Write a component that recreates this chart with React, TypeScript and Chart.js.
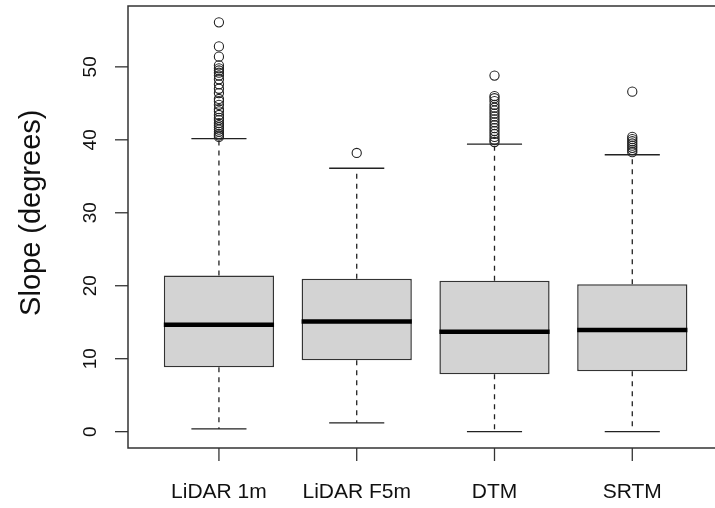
import React, { useEffect, useRef } from "react";
import { Chart, registerables } from "chart.js";

Chart.register(...registerables);

const categories = ["LiDAR 1m", "LiDAR F5m", "DTM", "SRTM"];
const lowerWhisker = [0.37, 1.19, 0.0, 0.0];
const q1 = [8.83, 9.8, 7.87, 8.28];
const median = [14.64, 15.1, 13.68, 13.95];
const q3 = [21.4, 20.95, 20.67, 20.2];
const upperWhisker = [40.15, 36.1, 39.42, 37.95];

const outliersLidar1m = [
  56.1, 52.8, 51.4, 50.2, 49.8, 49.5, 49.2, 48.8, 48.3, 47.6, 47.0, 46.4, 45.6,
  45.3, 44.8, 44.2, 43.9, 43.4, 43.0, 42.7, 42.3, 42.0, 41.7, 41.4, 41.1, 40.8,
  40.6, 40.4,
];
const outliersLidarF5m = [38.2];
const outliersDTM = [
  48.8, 46.0, 45.7, 45.3, 44.8, 44.4, 44.0, 43.6, 43.2, 42.8, 42.4, 42.0, 41.6,
  41.2, 40.8, 40.4, 40.0, 39.7,
];
const outliersSRTM = [46.6, 40.4, 40.1, 39.8, 39.5, 39.2, 38.9, 38.6, 38.3];
const outliers = [outliersLidar1m, outliersLidarF5m, outliersDTM, outliersSRTM];

const yTicks = [0, 10, 20, 30, 40, 50];
const yTitle = "Slope (degrees)";

const FONT = "'Liberation Sans', Arial, Helvetica, sans-serif";
const INK = "#222";

const boxplotPlugin = {
  id: "boxplotDecor",
  beforeDatasetsDraw(chart: any) {
    const { ctx } = chart;
    const x = chart.scales.x;
    const y = chart.scales.y;
    ctx.save();
    ctx.strokeStyle = INK;
    ctx.lineWidth = 1.3;
    categories.forEach((_, i) => {
      const cx = x.getPixelForValue(i + 1);
      ctx.setLineDash([5, 5]);
      ctx.beginPath();
      ctx.moveTo(cx, y.getPixelForValue(q3[i]));
      ctx.lineTo(cx, y.getPixelForValue(upperWhisker[i]));
      ctx.moveTo(cx, y.getPixelForValue(q1[i]));
      ctx.lineTo(cx, y.getPixelForValue(lowerWhisker[i]));
      ctx.stroke();
      ctx.setLineDash([]);
      const sl = x.getPixelForValue(i + 1 - 0.2);
      const sr = x.getPixelForValue(i + 1 + 0.2);
      ctx.beginPath();
      ctx.moveTo(sl, y.getPixelForValue(upperWhisker[i]));
      ctx.lineTo(sr, y.getPixelForValue(upperWhisker[i]));
      ctx.moveTo(sl, y.getPixelForValue(lowerWhisker[i]));
      ctx.lineTo(sr, y.getPixelForValue(lowerWhisker[i]));
      ctx.stroke();
    });
    ctx.restore();
  },
  afterDatasetsDraw(chart: any) {
    const { ctx, chartArea, width } = chart;
    const x = chart.scales.x;
    const y = chart.scales.y;
    ctx.save();
    ctx.strokeStyle = "#000";
    ctx.lineWidth = 4.5;
    categories.forEach((_, i) => {
      const l = x.getPixelForValue(i + 1 - 0.4);
      const r = x.getPixelForValue(i + 1 + 0.4);
      const my = y.getPixelForValue(median[i]);
      ctx.beginPath();
      ctx.moveTo(l, my);
      ctx.lineTo(r, my);
      ctx.stroke();
    });

    ctx.strokeStyle = "#333";
    ctx.lineWidth = 1.5;
    ctx.beginPath();
    ctx.moveTo(width + 2, chartArea.top);
    ctx.lineTo(chartArea.left, chartArea.top);
    ctx.lineTo(chartArea.left, chartArea.bottom);
    ctx.lineTo(width + 2, chartArea.bottom);
    ctx.stroke();

    ctx.lineWidth = 1.3;
    ctx.fillStyle = "#111";
    ctx.font = `19px ${FONT}`;
    ctx.textAlign = "center";
    ctx.textBaseline = "alphabetic";
    yTicks.forEach((v) => {
      const py = y.getPixelForValue(v);
      ctx.beginPath();
      ctx.moveTo(chartArea.left - 13, py);
      ctx.lineTo(chartArea.left, py);
      ctx.stroke();
      ctx.save();
      ctx.translate(chartArea.left - 32, py);
      ctx.rotate(-Math.PI / 2);
      ctx.fillText(String(v), 0, 0);
      ctx.restore();
    });

    ctx.font = `21px ${FONT}`;
    categories.forEach((c, i) => {
      const px = x.getPixelForValue(i + 1);
      ctx.beginPath();
      ctx.moveTo(px, chartArea.bottom);
      ctx.lineTo(px, chartArea.bottom + 13);
      ctx.stroke();
      ctx.fillText(c, px, chartArea.bottom + 50);
    });

    ctx.font = `29px ${FONT}`;
    ctx.save();
    ctx.translate(39.5, (y.getPixelForValue(30) + y.getPixelForValue(10)) / 2 - 73);
    ctx.rotate(-Math.PI / 2);
    ctx.fillText(yTitle, 0, 0);
    ctx.restore();

    ctx.restore();
  },
};

export default function App() {
  const ref = useRef<HTMLCanvasElement | null>(null);
  useEffect(() => {
    if (!ref.current) return;
    const chart = new Chart(ref.current, {
      type: "bar",
      data: {
        datasets: [
          {
            type: "bar",
            data: categories.map((_, i) => ({ x: i + 1, y: [q1[i], q3[i]] })) as any,
            backgroundColor: "#d3d3d3",
            borderColor: "#333",
            borderWidth: 1.5,
            borderSkipped: false,
            barPercentage: 0.8,
            categoryPercentage: 1.0,
            order: 2,
          } as any,
          {
            type: "scatter",
            data: outliers.flatMap((arr, i) => arr.map((v) => ({ x: i + 1, y: v }))),
            pointStyle: "circle",
            pointRadius: 4.6,
            pointBorderWidth: 1.1,
            pointBorderColor: INK,
            pointBackgroundColor: "rgba(0,0,0,0)",
            showLine: false,
            order: 1,
          } as any,
        ],
      },
      options: {
        animation: false,
        responsive: false,
        devicePixelRatio: 1,
        layout: { padding: { left: 128, top: 6, right: 0, bottom: 60 } },
        plugins: {
          legend: { display: false },
          tooltip: { enabled: false },
          title: { display: false },
        },
        scales: {
          x: {
            type: "linear",
            display: false,
            offset: false,
            min: 0.34,
            max: 4.559,
            afterBuildTicks: (scale: any) => {
              scale.ticks = [1, 2, 3, 4].map((v) => ({ value: v }));
            },
          },
          y: {
            type: "linear",
            display: false,
            min: -2.24,
            max: 58.34,
          },
        },
      },
      plugins: [boxplotPlugin],
    });
    return () => chart.destroy();
  }, []);
  return (
    <div style={{ position: "absolute", left: 0, top: 0, width: 715, height: 508, background: "#fff" }}>
      <canvas ref={ref} width={715} height={508} style={{ display: "block" }} />
    </div>
  );
}
